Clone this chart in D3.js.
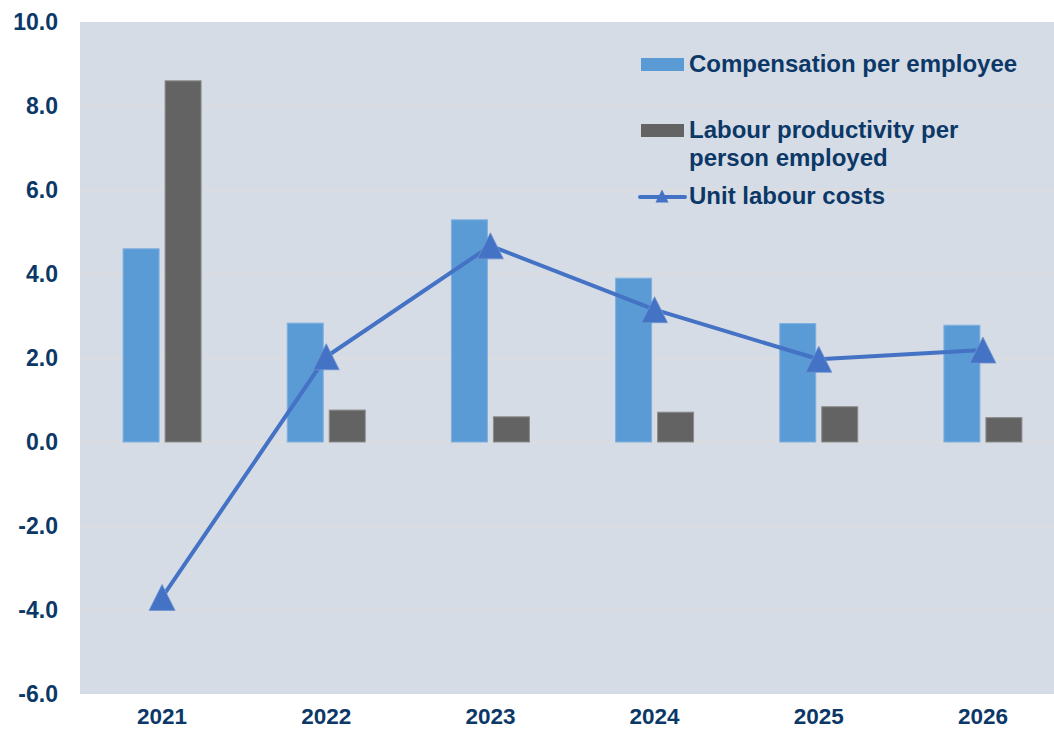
<!DOCTYPE html>
<html>
<head>
<meta charset="utf-8">
<script src="https://cdn.jsdelivr.net/npm/d3@7"></script>
<style>
  html, body { margin: 0; padding: 0; background: #ffffff; }
  svg { display: block; }
  text { font-family: "Liberation Sans", Arial, sans-serif; font-weight: bold; fill: #0c3868; }
</style>
</head>
<body>
<svg id="chart" width="1054" height="733"></svg>
<script>
// Annual growth rates, %
const years = ["2021", "2022", "2023", "2024", "2025", "2026"];
const compensation = [4.6, 2.83, 5.29, 3.9, 2.82, 2.78];
const productivity = [8.6, 0.76, 0.6, 0.71, 0.84, 0.58];
const unitLabourCosts = [-3.7, 2.03, 4.67, 3.15, 1.97, 2.19];
const yTicks = [10, 8, 6, 4, 2, 0, -2, -4, -6];
const seriesNames = ["Compensation per employee", "Labour productivity per person employed", "Unit labour costs"];

const colors = { comp: "#5b9bd5", prod: "#636363", ulc: "#4472c4" };

const svg = d3.select("#chart");
const plot = { left: 80, top: 22, right: 1065, bottom: 694 };

const y = d3.scaleLinear().domain([-6, 10]).range([plot.bottom, plot.top]);
const x0 = d3.scaleBand().domain(years).range([plot.left, plot.right]).padding(0);
const x1 = d3.scaleBand().domain(["comp", "prod"]).range([0, 78]).paddingInner(6 / 42);
const cx = d => x0(d) + x0.bandwidth() / 2;

// plot background
svg.append("rect")
  .attr("x", plot.left).attr("y", plot.top)
  .attr("width", plot.right - plot.left).attr("height", plot.bottom - plot.top)
  .attr("fill", "#d6dce5");

// gridlines
svg.append("g").selectAll("line").data(yTicks.filter(t => t !== 10 && t !== -6)).join("line")
  .attr("x1", plot.left).attr("x2", plot.right)
  .attr("y1", d => y(d)).attr("y2", d => y(d))
  .attr("stroke", "#e2ddd9").attr("stroke-width", 1);

// y axis labels (plain hyphen for negatives)
const fmt = d => d3.format(".1f")(d).replace("\u2212", "-");
const yAxis = d3.axisLeft(y).tickValues(yTicks).tickFormat(fmt).tickSize(0).tickPadding(22);
svg.append("g").attr("transform", `translate(${plot.left},0)`).call(yAxis)
  .call(g => g.select(".domain").remove())
  .call(g => g.selectAll("text").attr("font-size", 23).attr("fill", "#0c3868")
    .attr("font-family", "Liberation Sans, Arial, sans-serif").attr("font-weight", "bold"));

// x axis labels
const xAxis = d3.axisBottom(x0).tickSize(0).tickPadding(14);
svg.append("g").attr("transform", `translate(0,${plot.bottom})`).call(xAxis)
  .call(g => g.select(".domain").remove())
  .call(g => g.selectAll("text").attr("font-size", 22.5).attr("fill", "#0c3868")
    .attr("font-family", "Liberation Sans, Arial, sans-serif").attr("font-weight", "bold"));

// bars
const groups = svg.append("g").selectAll("g").data(years).join("g")
  .attr("transform", d => `translate(${cx(d) - 39},0)`);

groups.append("rect")
  .attr("x", x1("comp")).attr("width", x1.bandwidth())
  .attr("y", (d, i) => y(Math.max(0, compensation[i])))
  .attr("height", (d, i) => Math.abs(y(compensation[i]) - y(0)))
  .attr("fill", colors.comp).attr("stroke", "#7fb0df").attr("stroke-width", 1);

groups.append("rect")
  .attr("x", x1("prod")).attr("width", x1.bandwidth())
  .attr("y", (d, i) => y(Math.max(0, productivity[i])))
  .attr("height", (d, i) => Math.abs(y(productivity[i]) - y(0)))
  .attr("fill", colors.prod).attr("stroke", "#8c8c8c").attr("stroke-width", 1);

// unit labour costs line
const line = d3.line().x((d, i) => cx(years[i])).y(d => y(d));
svg.append("path").datum(unitLabourCosts)
  .attr("d", line).attr("fill", "none")
  .attr("stroke", colors.ulc).attr("stroke-width", 4).attr("stroke-linejoin", "round");

const tri = (w, h) => `M0,${-h / 2}L${w / 2},${h / 2}L${-w / 2},${h / 2}Z`;
svg.append("g").selectAll("path").data(unitLabourCosts).join("path")
  .attr("transform", (d, i) => `translate(${cx(years[i])},${y(d)})`)
  .attr("d", tri(26, 26)).attr("fill", colors.ulc).attr("stroke", "#6f93d2").attr("stroke-width", 0.8);

// legend
const legend = svg.append("g");
legend.append("rect").attr("x", 641).attr("y", 58).attr("width", 43).attr("height", 13).attr("fill", colors.comp);
legend.append("text").attr("x", 689).attr("y", 72).attr("font-size", 24).text(seriesNames[0]);

legend.append("rect").attr("x", 641).attr("y", 124).attr("width", 43).attr("height", 13).attr("fill", colors.prod);
const t2 = legend.append("text").attr("x", 689).attr("y", 138).attr("font-size", 24);
t2.append("tspan").attr("x", 689).attr("dy", 0).text("Labour productivity per");
t2.append("tspan").attr("x", 689).attr("dy", 28).text("person employed");

legend.append("line").attr("x1", 640).attr("x2", 685).attr("y1", 197).attr("y2", 197)
  .attr("stroke", colors.ulc).attr("stroke-width", 4).attr("stroke-linecap", "round");
legend.append("path").attr("transform", "translate(662,196)").attr("d", tri(13, 13)).attr("fill", colors.ulc);
legend.append("text").attr("x", 689).attr("y", 204).attr("font-size", 24).text(seriesNames[2]);
</script>
</body>
</html>
